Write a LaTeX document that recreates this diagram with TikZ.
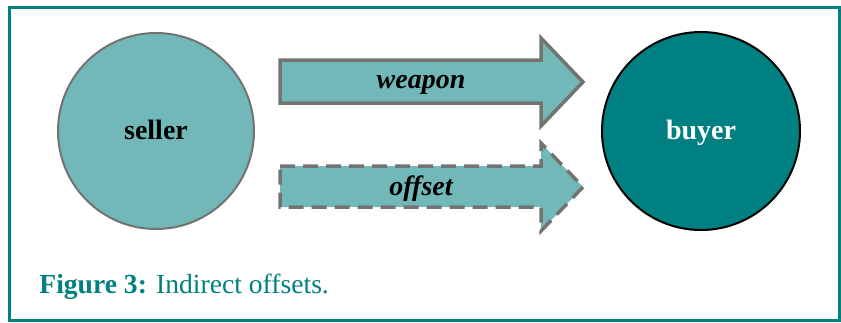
\documentclass[tikz,border=0pt]{standalone}
\usepackage{fontspec}
\setmainfont{Liberation Serif}
\usepackage{tikz}
\usetikzlibrary{positioning}
\definecolor{tealdark}{HTML}{008080}
\definecolor{teallight}{HTML}{72B8B8}
\definecolor{rimgray}{HTML}{737373}
\tikzset{
  party/.style={circle, minimum size=98pt, inner sep=0pt, line width=1pt,
    font=\fontsize{14}{17}\selectfont\bfseries},
  blockarrow/.style={fill=teallight, draw=rimgray, line width=1.75pt, line join=miter},
  arrowlabel/.style={font=\fontsize{14}{17}\selectfont\bfseries\itshape}
}
\begin{document}
\begin{tikzpicture}[x=0.5pt,y=-0.5pt]
  \useasboundingbox (0,0) rectangle (841,322);
  \draw[tealdark, line width=1.5pt](9.5,7.5) rectangle (839.5,320.5);
  \node[party, fill=teallight, draw=rimgray](seller) at (156,131){};
  \node[party, fill=tealdark, draw=black, minimum size=99pt](buyer) at (701,131){};
  \node[font=\fontsize{14}{17}\selectfont\bfseries, anchor=base](sellername) at (156,139){seller};
  \node[font=\fontsize{14}{17}\selectfont\bfseries, text=white, anchor=base](buyername) at (701,139){buyer};
  % weapon arrow
  \draw[blockarrow](280,60)--(541,60)--(541,38)--(583,82)--(541,126)--(541,103)--(280,103)--cycle;
  \node[arrowlabel, anchor=base](weapon) at (421,88){weapon};
  % offset arrow, dashed rim
  \draw[blockarrow, dash pattern=on 7.5pt off 4pt](280,166)--(541,166)--(541,143)--(583,187)--(541,231)--(541,207)--(280,207)--cycle;
  \node[arrowlabel, anchor=base](offset) at (421,195){offset};
  \node[anchor=base west, text=tealdark, font=\fontsize{13.8}{17}\selectfont, inner sep=0pt](caption) at (39,293){\textbf{Figure 3:} Indirect offsets.};
\end{tikzpicture}
\end{document}
